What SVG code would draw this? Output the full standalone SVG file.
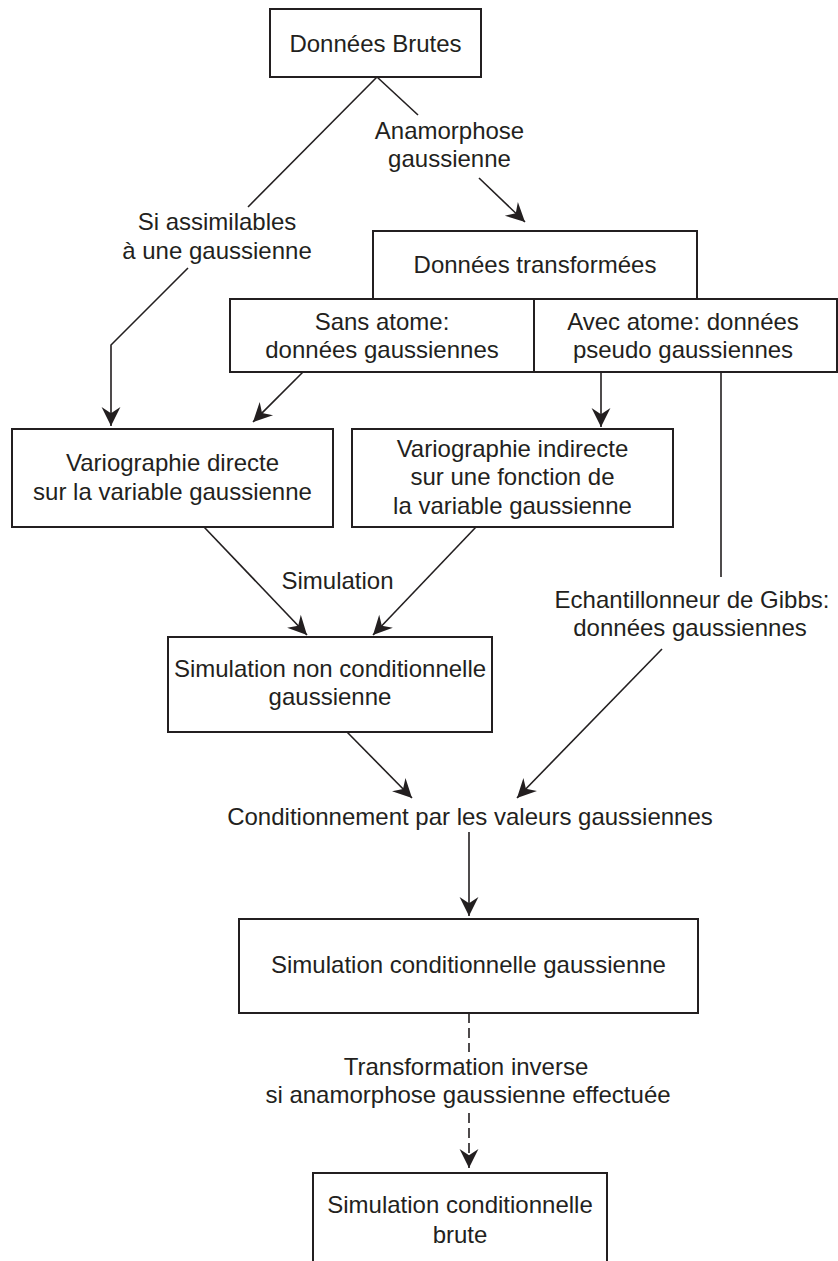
<svg xmlns="http://www.w3.org/2000/svg" width="838" height="1261" viewBox="0 0 838 1261">
<defs>
<marker id="ah" markerUnits="userSpaceOnUse" markerWidth="20" markerHeight="20" refX="0" refY="0" viewBox="-17 -9 18 18" orient="auto" overflow="visible">
<path d="M0,0 L-17,-8.5 L-11.5,0 L-17,8.5 Z" fill="#231f20"/>
</marker>
<style>
.box{fill:#fff;stroke:#231f20;stroke-width:2}
.ln{fill:none;stroke:#231f20;stroke-width:1.6}
.ar{marker-end:url(#ah)}
.dash{stroke-dasharray:10 5}
text{font-family:"Liberation Sans",Arial,sans-serif;font-size:24px;fill:#231f20;text-anchor:middle}
</style>
</defs>
<rect width="838" height="1261" fill="#fff"/>

<g id="connectors">
<path class="ln" d="M377,77 L248,207"/>
<path class="ln ar" d="M188,268 L111,345 L111,426"/>
<path class="ln" d="M377,77 L418,115"/>
<path class="ln ar" d="M479,178 L525,222"/>
<path class="ln ar" d="M303,372 L253,422"/>
<path class="ln ar" d="M601,372 L601,427"/>
<path class="ln" d="M721,372 L721,577"/>
<path class="ln ar" d="M204,527 L307,635"/>
<path class="ln ar" d="M476,527 L373,635"/>
<path class="ln ar" d="M347,732 L412,798"/>
<path class="ln ar" d="M662,649 L517,798"/>
<path class="ln ar" d="M469,832 L469,916"/>
<path class="ln dash" d="M469,1013 L469,1052"/>
<path class="ln dash ar" d="M469,1113 L469,1168"/>
</g>

<g id="labels">
<text x="217" y="230">Si assimilables</text>
<text x="217" y="259">à une gaussienne</text>
<text x="449.5" y="139">Anamorphose</text>
<text x="449.5" y="167">gaussienne</text>
<text x="337.5" y="589">Simulation</text>
<text x="692" y="608">Echantillonneur de Gibbs:</text>
<text x="690" y="636">données gaussiennes</text>
<text x="470" y="825">Conditionnement par les valeurs gaussiennes</text>
<text x="466" y="1075">Transformation inverse</text>
<text x="468" y="1103">si anamorphose gaussienne effectuée</text>
</g>

<g id="n-donnees-brutes">
<rect class="box" x="270" y="9" width="211" height="68"/>
<text x="375.5" y="52">Données Brutes</text>
</g>

<g id="n-donnees-transformees">
<rect class="box" x="373" y="231" width="324" height="68"/>
<text x="535" y="273">Données transformées</text>
</g>

<g id="n-sans-atome">
<rect class="box" x="230" y="299" width="304" height="73"/>
<text x="382" y="330">Sans atome:</text>
<text x="382" y="358">données gaussiennes</text>
</g>

<g id="n-avec-atome">
<rect class="box" x="534" y="299" width="303" height="73"/>
<text x="683" y="330">Avec atome: données</text>
<text x="683" y="358">pseudo gaussiennes</text>
</g>

<g id="n-vario-directe">
<rect class="box" x="12" y="429" width="321" height="98"/>
<text x="172.5" y="471">Variographie directe</text>
<text x="172.5" y="500">sur la variable gaussienne</text>
</g>

<g id="n-vario-indirecte">
<rect class="box" x="352" y="429" width="321" height="98"/>
<text x="512.5" y="457">Variographie indirecte</text>
<text x="512.5" y="485">sur une fonction de</text>
<text x="512.5" y="514">la variable gaussienne</text>
</g>

<g id="n-sim-non-cond">
<rect class="box" x="168" y="637" width="324" height="95"/>
<text x="330" y="677">Simulation non conditionnelle</text>
<text x="330" y="705">gaussienne</text>
</g>

<g id="n-sim-cond-gauss">
<rect class="box" x="239" y="919" width="459" height="94"/>
<text x="468.5" y="973">Simulation conditionnelle gaussienne</text>
</g>

<g id="n-sim-cond-brute">
<rect class="box" x="313" y="1173" width="294" height="120"/>
<text x="460" y="1213">Simulation conditionnelle</text>
<text x="460" y="1243">brute</text>
</g>
</svg>
